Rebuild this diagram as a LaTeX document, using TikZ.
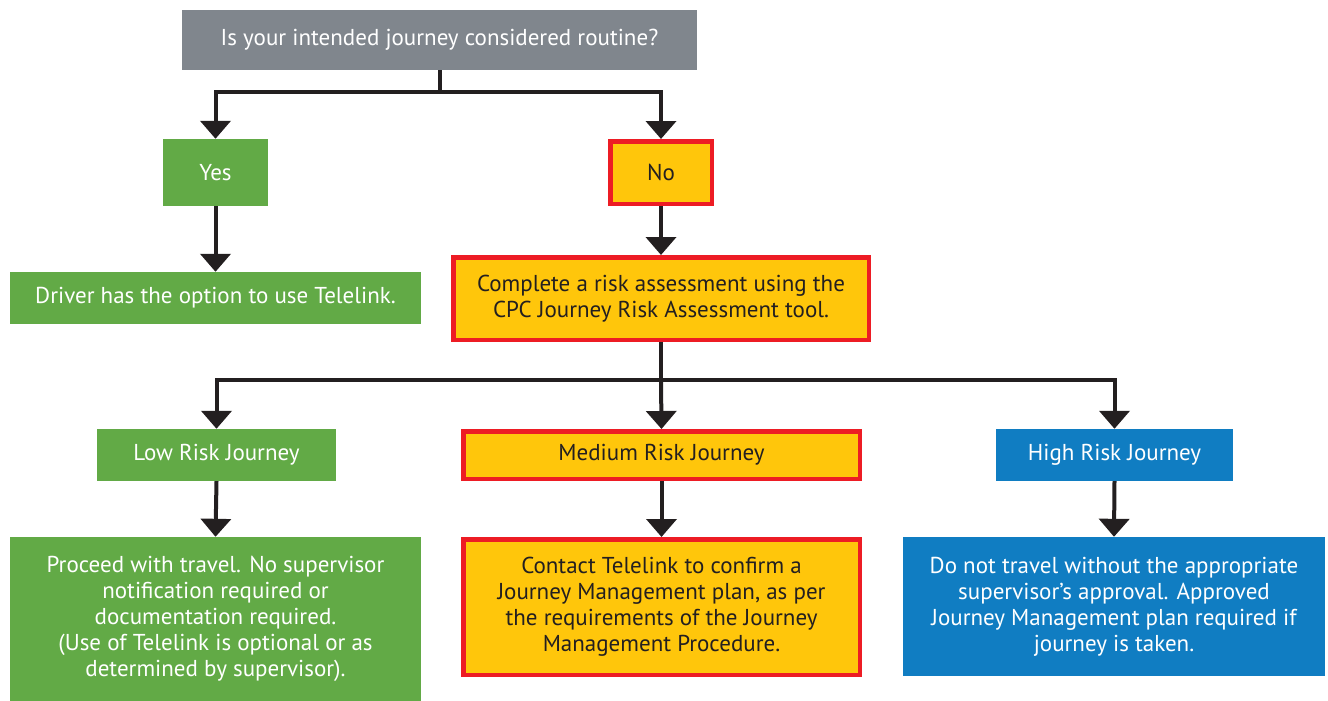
\documentclass[tikz,border=0pt]{standalone}
\usepackage{fontspec}
\setmainfont{PT Sans}
\usetikzlibrary{arrows.meta}
\definecolor{cgray}{RGB}{128,134,141}
\definecolor{cgreen}{RGB}{98,170,70}
\definecolor{cyellow}{RGB}{255,198,11}
\definecolor{cred}{RGB}{237,28,36}
\definecolor{cblue}{RGB}{16,125,194}
\definecolor{cink}{RGB}{35,31,32}
\tikzset{
  base/.style={inner sep=2pt, align=center, font=\fontsize{23}{26}\selectfont},
  graybox/.style={base, fill=cgray, text=white},
  greenbox/.style={base, fill=cgreen, text=white},
  bluebox/.style={base, fill=cblue, text=white},
  yellowbox/.style={base, fill=cyellow, draw=cred, line width=4.5pt, text=cink},
  link/.style={draw=cink, line width=4pt},
  arr/.style={link, -{Triangle[width=30pt,length=18pt]}},
}
\begin{document}
\begin{tikzpicture}[x=1pt,y=-1pt]
\useasboundingbox (0,0) rectangle (1328,701);
\node[graybox, minimum width=515pt, minimum height=60pt] (top) at (439.5,40) {Is your intended journey considered routine?};
\node[greenbox, minimum width=105pt, minimum height=67pt] (yes) at (215.5,172.5) {Yes};
\node[yellowbox, minimum width=101.5pt, minimum height=62.5pt] (no) at (661,172.5) {No};
\node[greenbox, minimum width=411pt, minimum height=52pt] (driver) at (215.5,298) {Driver has the option to use Telelink.};
\node[yellowbox, minimum width=415.5pt, minimum height=82.5pt] (assess) at (661,298.5) {Complete a risk assessment using the\\CPC Journey Risk Assessment tool.};
\node[greenbox, minimum width=239pt, minimum height=52pt] (low) at (216.5,455) {Low Risk Journey};
\node[yellowbox, minimum width=396.5pt, minimum height=47.5pt] (medium) at (661.5,455) {Medium Risk Journey};
\node[bluebox, minimum width=237pt, minimum height=52pt] (high) at (1114.5,455) {High Risk Journey};
\node[greenbox, minimum width=411pt, minimum height=164pt] (proceed) at (215.5,619) {Proceed with travel. No supervisor\\notification required or\\documentation required.\\(Use of Telelink is optional or as\\determined by supervisor).};
\node[yellowbox, minimum width=396.5pt, minimum height=135.5pt] (contact) at (661.5,607) {Contact Telelink to confirm a\\Journey Management plan, as per\\the requirements of the Journey\\Management Procedure.};
\node[bluebox, minimum width=422pt, minimum height=139pt] (donot) at (1114,606.5) {Do not travel without the appropriate\\supervisor’s approval. Approved\\Journey Management plan required if\\journey is taken.};
\coordinate (j1) at (439.5,92);
\coordinate (j2) at (661,380);
\draw[link] (top.south) -- (j1);
\draw[arr] (j1) -| (yes.north);
\draw[arr] (j1) -| (no.north);
\draw[arr] (yes.south) -- (driver.north);
\draw[arr] (no.south) -- (assess.north);
\draw[link] (assess.south) -- (j2);
\draw[arr] (j2) -| (low.north);
\draw[arr] (j2) -- (medium.north);
\draw[arr] (j2) -| (high.north);
\draw[arr] (low.south) -- (proceed.north);
\draw[arr] (medium.south) -- (contact.north);
\draw[arr] (high.south) -- (donot.north);
\end{tikzpicture}
\end{document}
